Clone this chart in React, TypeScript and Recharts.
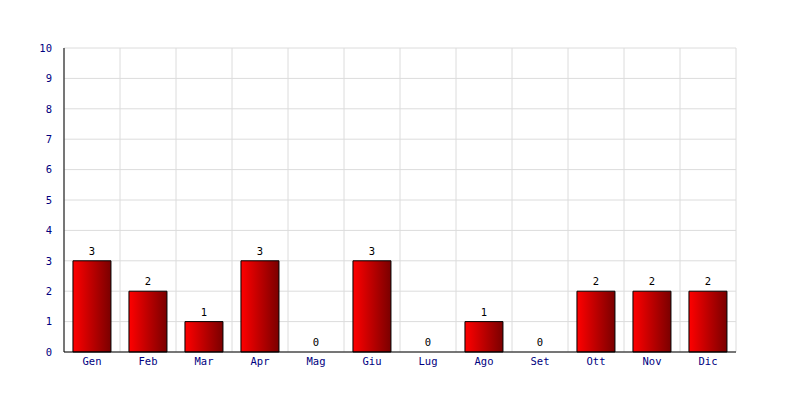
import React from "react";
import { ComposedChart, Bar, Line, XAxis, YAxis, CartesianGrid, LabelList } from "recharts";

const months = ["Gen", "Feb", "Mar", "Apr", "Mag", "Giu", "Lug", "Ago", "Set", "Ott", "Nov", "Dic"];
const values = [3, 2, 1, 3, 0, 3, 0, 1, 0, 2, 2, 2];
const yTicks = [0, 1, 2, 3, 4, 5, 6, 7, 8, 9, 10];

const data = months.map((m, i) => ({ month: m, value: values[i] }));

const FONT = "'DejaVu Sans Mono', monospace";

const verticalGen = ({ offset }: any) => {
  const n = months.length;
  const out: number[] = [];
  for (let i = 0; i <= n; i++) out.push(offset.left + (offset.width * i) / n);
  return out;
};

export default function App() {
  return (
    <div style={{ position: "absolute", left: 0, top: 0, width: 800, height: 400, background: "#fff" }}>
      <ComposedChart
        width={800}
        height={400}
        data={data}
        margin={{ top: 48, right: 64, bottom: 18, left: 14 }}
        barCategoryGap="16%"
      >
        <defs>
          <linearGradient id="barGrad" x1="0" y1="0" x2="1" y2="0">
            <stop offset="0%" stopColor="#ff0000" />
            <stop offset="100%" stopColor="#7a0000" />
          </linearGradient>
        </defs>
        <CartesianGrid stroke="#dcdcdc" strokeWidth={1} verticalCoordinatesGenerator={verticalGen} />
        <XAxis
          dataKey="month"
          tickLine={false}
          axisLine={{ stroke: "#000" }}
          tick={{ fill: "#000080", fontSize: 10.5, fontFamily: FONT }}
          tickMargin={0}
          interval={0}
          height={30}
        />
        <YAxis
          domain={[0, 10]}
          ticks={yTicks}
          width={50}
          tickLine={false}
          axisLine={{ stroke: "#000" }}
          tick={{ fill: "#000080", fontSize: 10.5, fontFamily: FONT }}
          tickMargin={6}
          interval={0}
        />
        <Bar dataKey="value" fill="url(#barGrad)" stroke="#000" strokeWidth={1} isAnimationActive={false} />
        <Line dataKey="value" stroke="none" dot={false} activeDot={false} isAnimationActive={false} legendType="none">
          <LabelList dataKey="value" position="top" offset={6} fill="#000" fontSize={10.5} fontFamily={FONT} />
        </Line>
      </ComposedChart>
    </div>
  );
}
